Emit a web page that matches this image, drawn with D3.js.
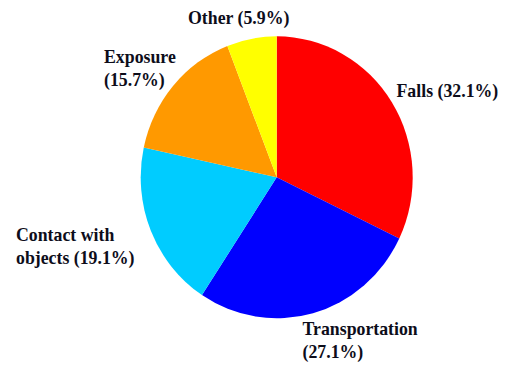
<!DOCTYPE html>
<html>
<head>
<meta charset="utf-8">
<script src="https://cdn.jsdelivr.net/npm/d3@7"></script>
<style>
  body { margin: 0; background: #fff; }
  text.lbl { font-family: "Liberation Serif", "Times New Roman", serif; }
</style>
</head>
<body>
<div id="chart"></div>
<script>
// data, clockwise from 12 o'clock
var categories = ["Falls", "Transportation", "Contact with objects", "Exposure", "Other"];
var shares = [32.1, 27.1, 19.1, 15.7, 5.9];
var colors = ["#ff0000", "#0000ff", "#00ccff", "#ff9900", "#ffff00"];
// label text lines for each slice
var labelLines = [
    ["Falls (32.1%)"],
    ["Transportation", "(27.1%)"],
    ["Contact with", "objects (19.1%)"],
    ["Exposure", "(15.7%)"],
    ["Other (5.9%)"]
];

var w = 520;
var h = 377;
var cx = 276.7, cy = 177.3;
var rx = 136, ry = 141;

// where each label block starts (first baseline)
var labelPos = [[396.5, 97], [302.5, 335], [16, 241], [104, 63], [188, 24]];
var lineGap = 22.5;

var svg = d3.select("#chart")
    .append("svg")
    .attr("width", w)
    .attr("height", h);

var pie = d3.pie()
    .sort(null)
    .value(function (d) { return d; });

var arc = d3.arc()
    .innerRadius(0)
    .outerRadius(rx);

var g = svg.append("g")
    .attr("transform", "translate(" + cx + "," + cy + ") scale(1," + (ry / rx) + ")");

g.selectAll("path")
    .data(pie(shares))
    .enter()
    .append("path")
    .attr("d", arc)
    .attr("fill", function (d, i) { return colors[i]; });

var labels = svg.selectAll("text.lbl")
    .data(labelLines)
    .enter()
    .append("text")
    .attr("class", "lbl")
    .attr("x", function (d, i) { return labelPos[i][0]; })
    .attr("y", function (d, i) { return labelPos[i][1]; })
    .style("font-weight", "bold")
    .style("font-size", "17.8px")
    .attr("fill", "#0d0d1a");

labels.selectAll("tspan")
    .data(function (d, i) { return d.map(function (t) { return { t: t, i: i }; }); })
    .enter()
    .append("tspan")
    .attr("x", function (d) { return labelPos[d.i][0]; })
    .attr("dy", function (d, j) { return j == 0 ? 0 : lineGap; })
    .text(function (d) { return d.t; });
</script>
</body>
</html>
